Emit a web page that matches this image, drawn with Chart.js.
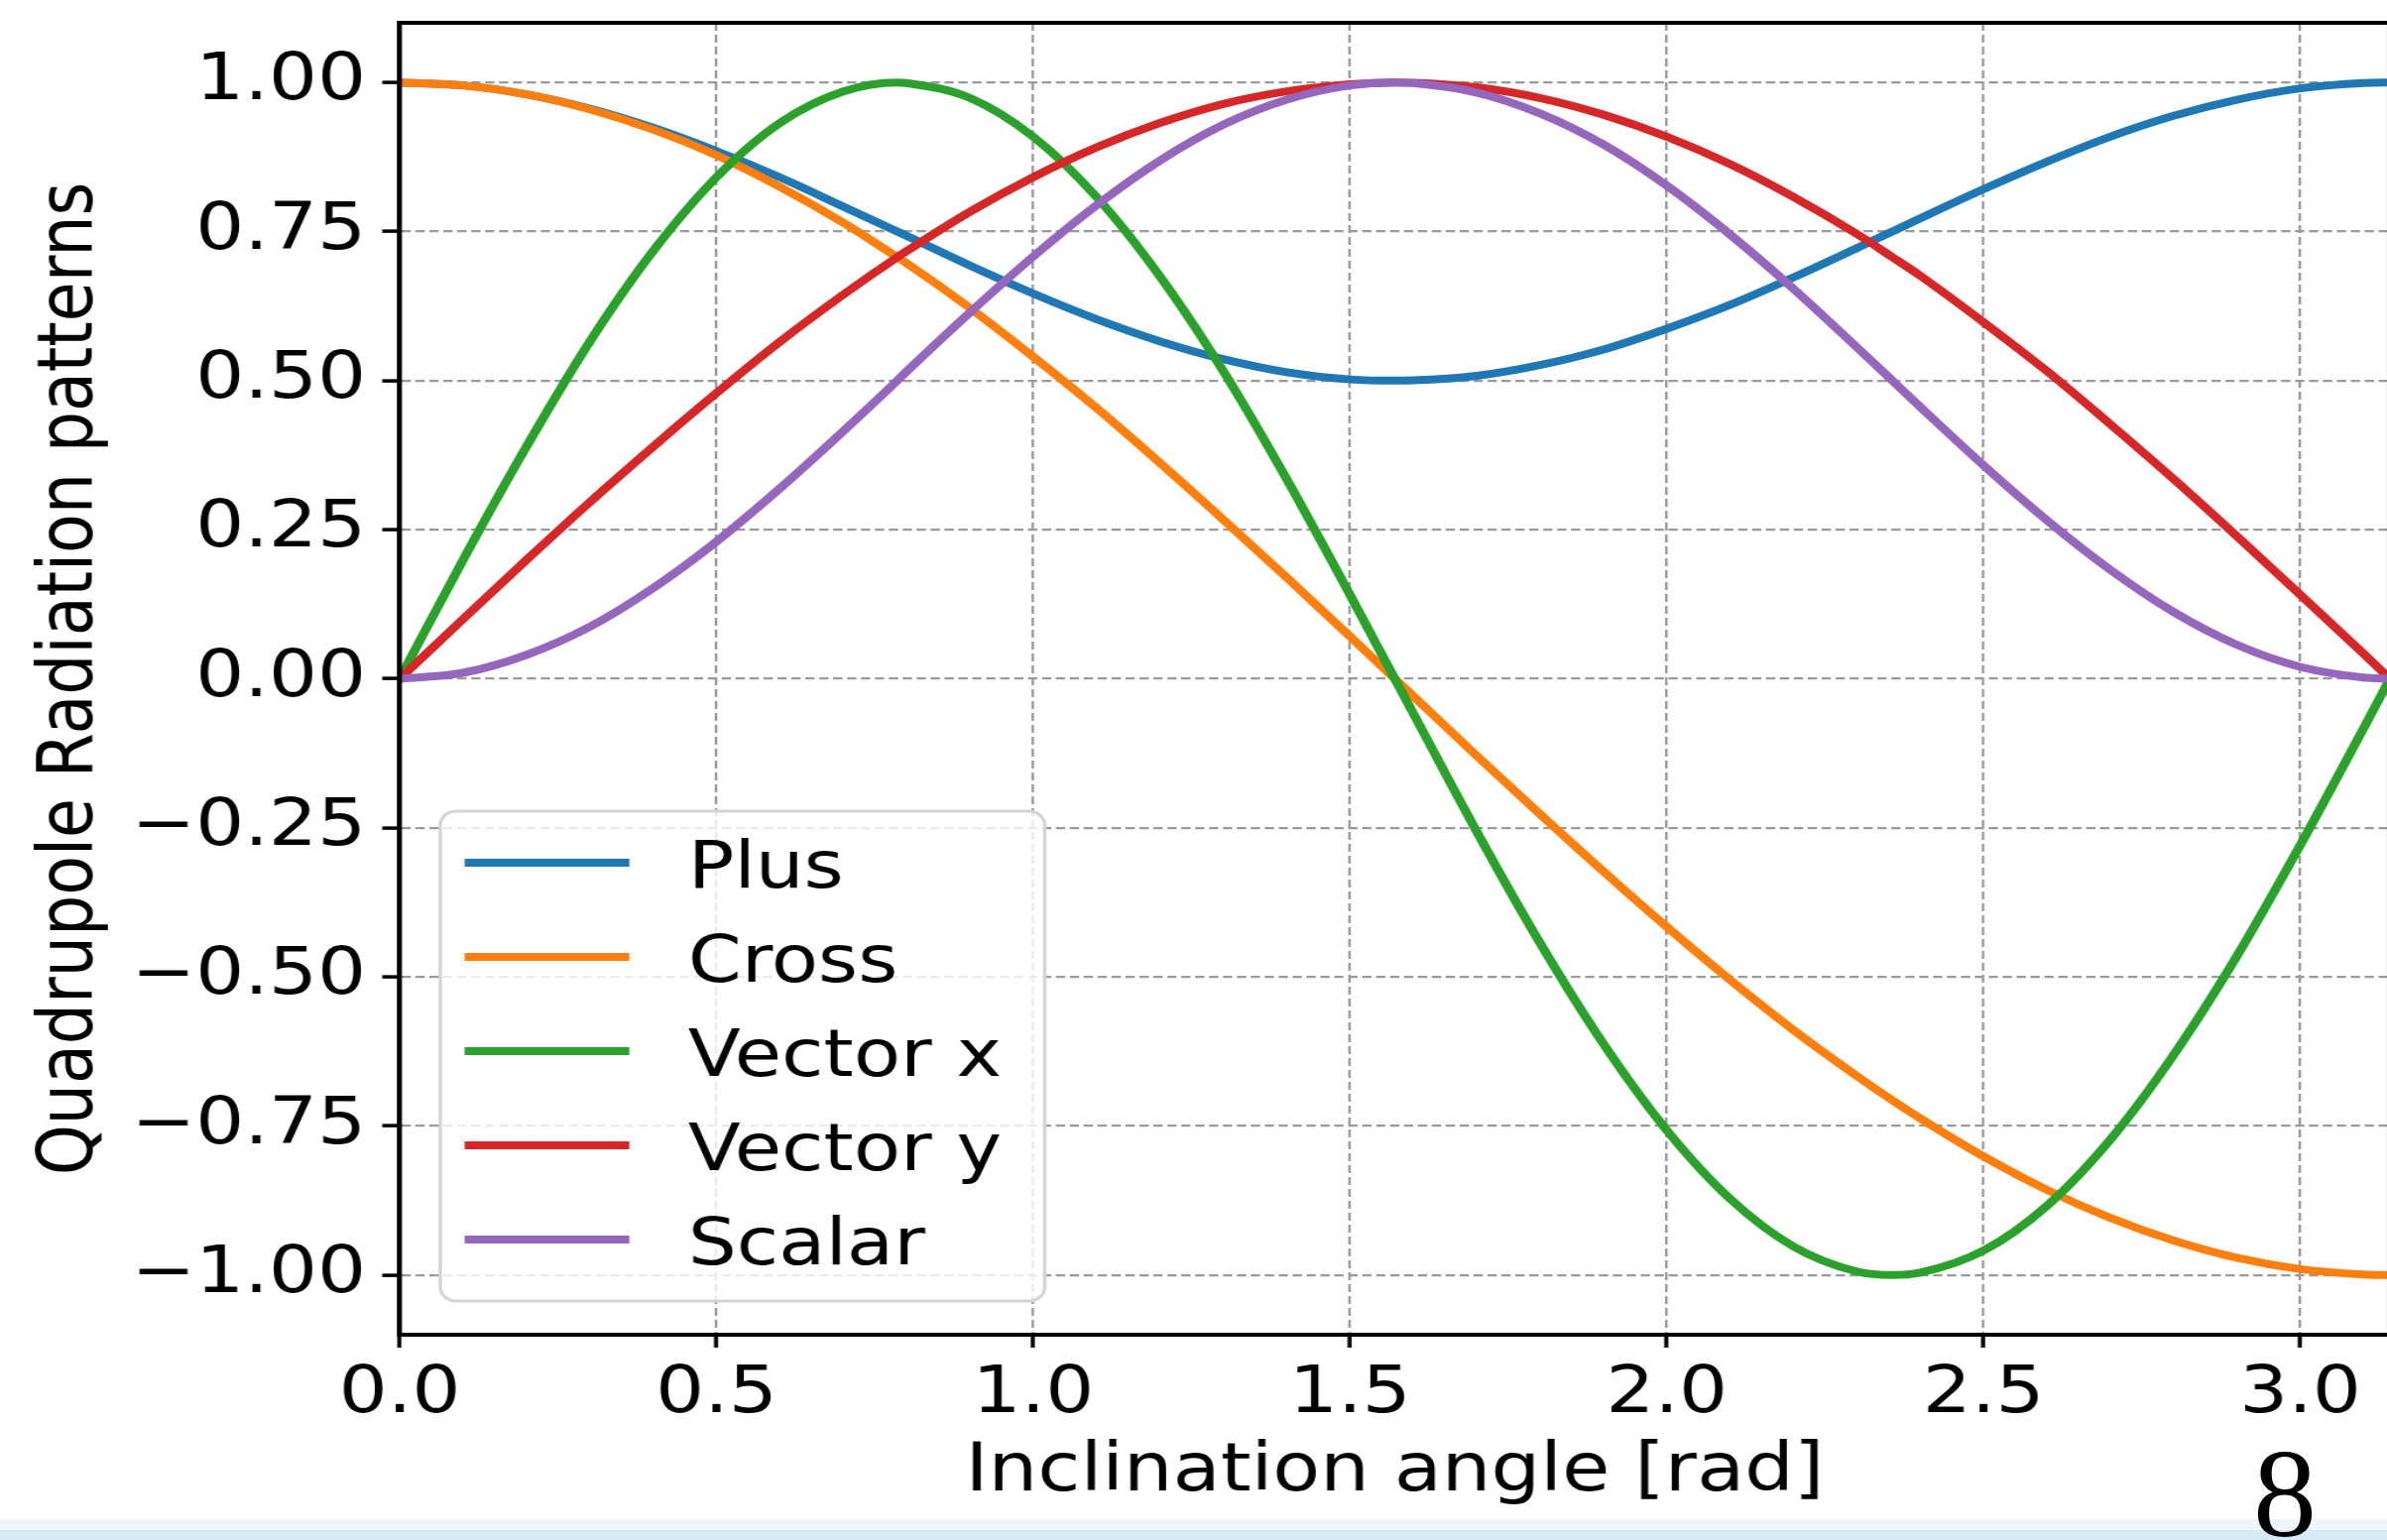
<!DOCTYPE html>
<html>
<head>
<meta charset="utf-8">
<title>Quadrupole Radiation patterns</title>
<script src="https://cdn.jsdelivr.net/npm/chart.js@4.4.0/dist/chart.umd.min.js"></script>
<style>
    html, body { margin: 0; padding: 0; background: #fff; overflow: hidden; }
    body { width: 2407px; height: 1553px; position: relative; }
    #wrap { position: absolute; left: 0; top: 0; transform: scaleX(1.17); transform-origin: 0 0; }
    .band { position: absolute; left: 0; width: 2407px; }
    #band1 { top: 1532px; height: 11px; background: #eef6fc; }
    #band2 { top: 1543px; height: 10px; background: #d6eaf7; }
    #page {
        position: absolute; left: 2254px; top: 1442px; width: 100px;
        text-align: center; font: 128px/128px "Liberation Serif", serif; color: #000;
    }
</style>
</head>
<body>
<div id="wrap"><canvas id="chart" width="2070" height="1553"></canvas></div>
<div class="band" id="band1"></div>
<div class="band" id="band2"></div>
<div id="page">8</div>
<script>
// inclination angle [rad]
const angles = [0, 0.1, 0.2, 0.3, 0.4, 0.5, 0.6, 0.7, 0.7854, 0.8, 0.9, 1.0, 1.1, 1.2, 1.3, 1.4,
    1.5, 1.5708, 1.6, 1.7, 1.8, 1.9, 2.0, 2.1, 2.2, 2.3, 2.3562, 2.4, 2.5, 2.6, 2.7, 2.8, 2.9,
    3.0, 3.1, 3.1416];

const plusValues = [1.00, 0.995, 0.98, 0.956, 0.924, 0.885, 0.841, 0.792, 0.75, 0.743, 0.693,
    0.646, 0.603, 0.566, 0.536, 0.514, 0.502, 0.50, 0.5004, 0.508, 0.526, 0.552, 0.587, 0.627,
    0.673, 0.722, 0.75, 0.772, 0.821, 0.867, 0.909, 0.944, 0.971, 0.99, 0.999, 1.00];
const crossValues = [1.00, 0.995, 0.98, 0.955, 0.921, 0.878, 0.825, 0.765, 0.707, 0.697, 0.622,
    0.54, 0.454, 0.362, 0.267, 0.17, 0.071, 0, -0.029, -0.129, -0.227, -0.323, -0.416, -0.505,
    -0.589, -0.666, -0.707, -0.737, -0.801, -0.857, -0.904, -0.942, -0.971, -0.99, -0.999, -1.00];
const vectorXValues = [0, 0.199, 0.389, 0.565, 0.717, 0.841, 0.932, 0.985, 1.00, 0.999, 0.974,
    0.909, 0.808, 0.675, 0.516, 0.335, 0.141, 0, -0.058, -0.256, -0.443, -0.612, -0.757, -0.872,
    -0.952, -0.994, -1.00, -0.996, -0.959, -0.884, -0.773, -0.631, -0.465, -0.279, -0.083, 0];
const vectorYValues = [0, 0.1, 0.199, 0.296, 0.389, 0.479, 0.565, 0.644, 0.707, 0.717, 0.783,
    0.841, 0.891, 0.932, 0.964, 0.985, 0.997, 1.00, 0.9996, 0.992, 0.974, 0.946, 0.909, 0.863,
    0.808, 0.746, 0.707, 0.676, 0.598, 0.516, 0.427, 0.335, 0.239, 0.141, 0.042, 0];
const scalarValues = [0, 0.01, 0.04, 0.087, 0.152, 0.23, 0.319, 0.415, 0.50, 0.515, 0.614,
    0.708, 0.794, 0.869, 0.929, 0.971, 0.995, 1.00, 0.999, 0.983, 0.948, 0.896, 0.827, 0.745,
    0.654, 0.556, 0.50, 0.456, 0.358, 0.266, 0.183, 0.112, 0.057, 0.02, 0.002, 0];

const seriesNames = ['Plus', 'Cross', 'Vector x', 'Vector y', 'Scalar'];
const seriesColors = ['#1f77b4', '#ff7f0e', '#2ca02c', '#d62728', '#9467bd'];
const seriesValues = [plusValues, crossValues, vectorXValues, vectorYValues, scalarValues];

const xTicks = [0, 0.5, 1.0, 1.5, 2.0, 2.5, 3.0];
const yTicks = [-1.0, -0.75, -0.5, -0.25, 0, 0.25, 0.5, 0.75, 1.0];

const FONT = '"DejaVu Sans", sans-serif';
Chart.defaults.font.family = FONT;
Chart.defaults.color = '#000';

function yLabel(v) {
    const s = Math.abs(v).toFixed(2);
    return v < 0 ? '\u2212' + s : s;
}

// top/right spines
const frame = {
    id: 'frame',
    afterDatasetsDraw(chart) {
        const { ctx, chartArea: a } = chart;
        ctx.save();
        ctx.strokeStyle = '#000';
        ctx.lineWidth = 4;
        ctx.strokeRect(a.left, a.top, a.right - a.left, a.bottom - a.top);
        ctx.restore();
    }
};

// matplotlib style legend box in the lower left
const legendBox = {
    id: 'legendBox',
    afterDatasetsDraw(chart) {
        const { ctx, chartArea: a } = chart;
        const x0 = a.left + 35, y0 = 818, w = 521, h = 494;
        ctx.save();
        ctx.beginPath();
        ctx.roundRect(x0, y0, w, h, 14);
        ctx.fillStyle = 'rgba(255,255,255,0.8)';
        ctx.fill();
        ctx.lineWidth = 3;
        ctx.strokeStyle = '#d4d4d4';
        ctx.stroke();
        ctx.font = '66px ' + FONT;
        ctx.textBaseline = 'alphabetic';
        chart.data.datasets.forEach((ds, i) => {
            const y = 870 + i * 95;
            ctx.strokeStyle = ds.borderColor;
            ctx.lineWidth = 8;
            ctx.beginPath();
            ctx.moveTo(x0 + 21, y);
            ctx.lineTo(x0 + 163, y);
            ctx.stroke();
            ctx.fillStyle = '#000';
            ctx.fillText(ds.label, x0 + 213.5, y + 25);
        });
        ctx.restore();
    }
};

const gridStyle = {
    color: '#9a9a9a',
    lineWidth: 2.2,
    tickColor: '#000',
    tickWidth: 3.5,
    tickBorderDash: []
};

new Chart(document.getElementById('chart'), {
    type: 'line',
    data: {
        datasets: seriesNames.map((name, i) => ({
            label: name,
            data: angles.map((x, j) => ({ x: x, y: seriesValues[i][j] })),
            borderColor: seriesColors[i],
            backgroundColor: seriesColors[i],
            borderWidth: 8,
            pointRadius: 0,
            cubicInterpolationMode: 'monotone',
            fill: false,
            order: seriesNames.length - 1 - i
        }))
    },
    options: {
        responsive: false,
        animation: false,
        devicePixelRatio: 1,
        layout: { padding: { left: 0, top: 23, right: 10.2, bottom: 0 } },
        plugins: {
            legend: { display: false },
            tooltip: { enabled: false }
        },
        scales: {
            x: {
                type: 'linear',
                min: 0,
                max: 3.1416,
                afterBuildTicks: (axis) => { axis.ticks = xTicks.map(v => ({ value: v })); },
                afterFit: (axis) => { axis.height = 207; axis.paddingLeft = 0; axis.paddingRight = 0; },
                ticks: {
                    font: { size: 66 },
                    padding: 8,
                    maxRotation: 0,
                    autoSkip: false,
                    callback: (v) => Number(v).toFixed(1)
                },
                grid: Object.assign({ tickLength: 13 }, gridStyle),
                border: { display: true, color: '#000', width: 4, dash: [8, 4] },
                title: {
                    display: true,
                    text: 'Inclination angle [rad]',
                    font: { size: 67 },
                    padding: { top: 0, bottom: 27 }
                }
            },
            y: {
                min: -1.1,
                max: 1.1,
                afterBuildTicks: (axis) => { axis.ticks = yTicks.map(v => ({ value: v })); },
                afterFit: (axis) => { axis.width = 344.4; axis.paddingTop = 0; axis.paddingBottom = 0; },
                ticks: {
                    font: { size: 66 },
                    padding: 14,
                    autoSkip: false,
                    callback: (v) => yLabel(Number(v))
                },
                grid: Object.assign({ tickLength: 15 }, gridStyle),
                border: { display: true, color: '#000', width: 4, dash: [8, 4] },
                title: {
                    display: true,
                    text: 'Quadrupole Radiation patterns',
                    font: { size: 65 },
                    padding: { top: 23, bottom: 0 }
                }
            }
        }
    },
    plugins: [frame, legendBox]
});
</script>
</body>
</html>
